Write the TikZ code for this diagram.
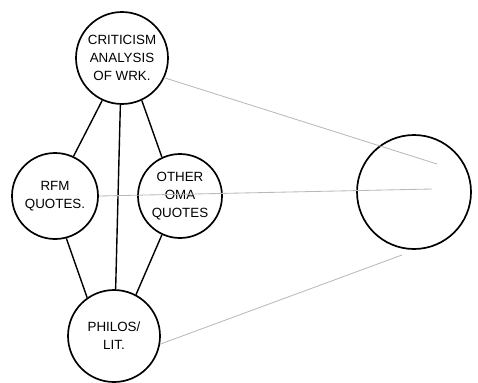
\documentclass[tikz,border=0pt]{standalone}
\usepackage{fontspec}
\setsansfont{Liberation Sans}
\usetikzlibrary{positioning}
\usetikzlibrary{calc}

\tikzset{
    bubble/.style={draw, circle, line width=1.2pt, align=center,
        font=\sffamily\fontsize{9.5}{13}\selectfont, inner sep=0pt},
    link/.style={line width=1pt},
    faint/.style={gray!55, line width=0.6pt}
}

\begin{document}
\begin{tikzpicture}[x=0.025cm, y=-0.025cm]
    \useasboundingbox (0,0) rectangle (478,382);

    \node[bubble, minimum size=92*0.025cm] (crit) at (122,58) {CRITICISM\\ANALYSIS\\OF WRK.};
    \node[bubble, minimum size=86*0.025cm] (rfm) at (55,196) {RFM\\QUOTES.};
    \node[bubble, minimum size=84*0.025cm] (oma) at (180,196) {OTHER\\OMA\\QUOTES};
    \node[bubble, minimum size=92*0.025cm] (philos) at (114,336) {PHILOS/\\LIT.};
    \node[bubble, minimum size=114*0.025cm] (blank) at (414,192) {};

    % loose ends inside the right circle
    \coordinate (e1) at (437,164);
    \coordinate (e2) at (432,189);
    \coordinate (e3) at (402,255);

    \draw[link] (crit.245) -- (rfm.65);
    \draw[link] (crit.295) -- (oma.115);
    \draw[link] (crit.268) -- (philos.88);
    \draw[link] (rfm.285) -- (philos.125);
    \draw[link] (oma.245) -- (philos.62);

    \draw[faint] (crit.335) -- (e1);
    \draw[faint] (rfm.east) -- (e2);
    \draw[faint] (philos.350) -- (e3);
\end{tikzpicture}
\end{document}
